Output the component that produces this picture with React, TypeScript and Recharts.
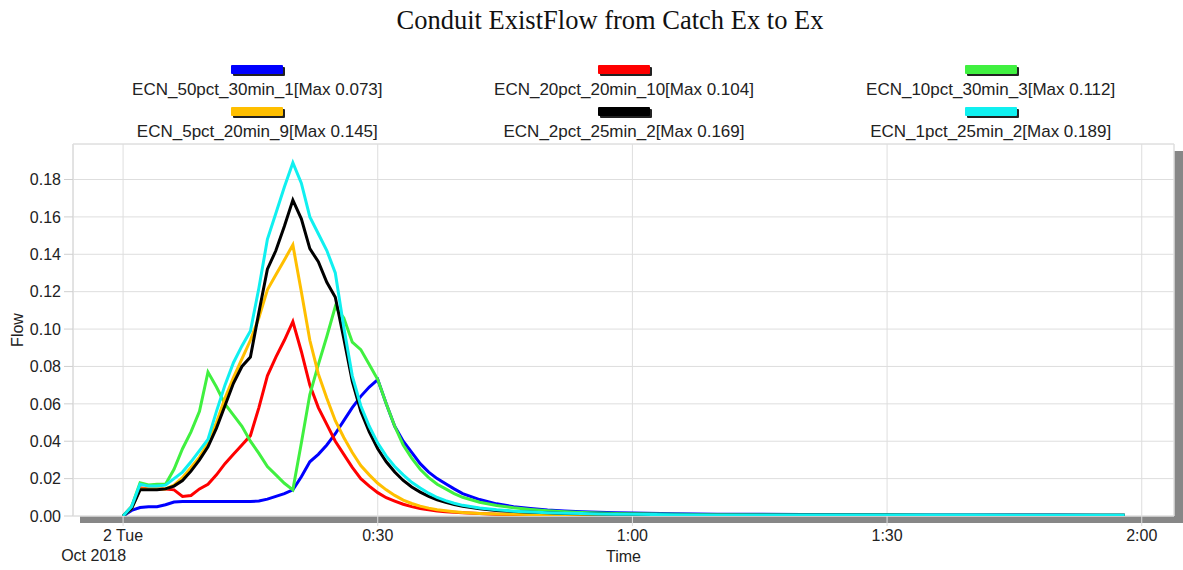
import React from "react";
import { LineChart, Line, XAxis, YAxis, CartesianGrid, ReferenceArea } from "recharts";

// minutes since 2 Tue Oct 2018 00:00
const TIME = [
  0, 1, 2, 3, 4, 5, 6, 7, 8, 9, 10, 11, 12, 13, 14, 15, 16, 17, 18, 19, 20,
  21, 22, 23, 24, 25, 26, 27, 28, 29, 30, 31, 32, 33, 34, 35, 36, 37, 38, 39, 40,
  42, 44, 46, 48, 50, 52, 54, 56, 58, 60,
  65, 70, 75, 80, 85, 90, 95, 100, 105, 110, 115, 118,
];

const FLOW_50PCT = [
  0, 0.003, 0.0045, 0.005, 0.005, 0.006, 0.0075, 0.0077, 0.0077, 0.0077, 0.0077,
  0.0077, 0.0077, 0.0077, 0.0077, 0.0078, 0.008, 0.009, 0.0105, 0.012, 0.014,
  0.021, 0.029, 0.033, 0.038, 0.044, 0.051, 0.058, 0.064, 0.069, 0.073,
  0.06, 0.048, 0.04, 0.034, 0.028, 0.0235, 0.02, 0.0172, 0.0145, 0.012,
  0.0088, 0.0065, 0.005, 0.004, 0.0032, 0.0027, 0.0023, 0.002, 0.0018, 0.0016,
  0.0012, 0.001, 0.0009, 0.0008, 0.0007, 0.0006, 0.0006, 0.0005, 0.0005, 0.0005, 0.0004, 0.0004,
];

const FLOW_20PCT = [
  0, 0.005, 0.015, 0.0145, 0.0145, 0.0145, 0.014, 0.0105, 0.011, 0.0145, 0.017,
  0.022, 0.028, 0.033, 0.038, 0.043, 0.058, 0.075, 0.085, 0.094, 0.104,
  0.088, 0.07, 0.058, 0.049, 0.04, 0.033, 0.026, 0.02, 0.016, 0.0125,
  0.0098, 0.008, 0.0063, 0.005, 0.004, 0.0033, 0.0027, 0.0023, 0.002, 0.0017,
  0.0013, 0.001, 0.0008, 0.0007, 0.0006, 0.0005, 0.0005, 0.0004, 0.0004, 0.0004,
  0.0003, 0.0003, 0.0003, 0.0003, 0.0003, 0.0003, 0.0003, 0.0003, 0.0003, 0.0003, 0.0003, 0.0003,
];

const FLOW_10PCT = [
  0, 0.005, 0.0178, 0.0166, 0.017, 0.017, 0.025, 0.036, 0.045, 0.056, 0.077,
  0.069, 0.06, 0.054, 0.048, 0.04, 0.0335, 0.0264, 0.022, 0.0175, 0.014,
  0.039, 0.065, 0.081, 0.096, 0.112, 0.106, 0.093, 0.089, 0.081, 0.073,
  0.06, 0.048, 0.038, 0.031, 0.025, 0.0205, 0.017, 0.0145, 0.012, 0.01,
  0.0074, 0.0056, 0.0044, 0.0035, 0.0028, 0.0023, 0.0019, 0.0016, 0.0014, 0.0012,
  0.0009, 0.0007, 0.0006, 0.0005, 0.0005, 0.0005, 0.0004, 0.0004, 0.0004, 0.0004, 0.0004, 0.0004,
];

const FLOW_5PCT = [
  0, 0.004, 0.0145, 0.0145, 0.0145, 0.0145, 0.0165, 0.0205, 0.026, 0.0315, 0.039,
  0.05, 0.063, 0.074, 0.084, 0.094, 0.106, 0.121, 0.129, 0.137, 0.145,
  0.12, 0.094, 0.076, 0.063, 0.051, 0.042, 0.034, 0.027, 0.022, 0.0175,
  0.014, 0.011, 0.0085, 0.0067, 0.0053, 0.0042, 0.0034, 0.0028, 0.0023, 0.0019,
  0.0014, 0.0011, 0.0009, 0.0008, 0.0007, 0.0006, 0.0006, 0.0005, 0.0005, 0.0005,
  0.0004, 0.0004, 0.0004, 0.0003, 0.0003, 0.0003, 0.0003, 0.0003, 0.0003, 0.0003, 0.0003, 0.0003,
];

const FLOW_2PCT = [
  0, 0.004, 0.014, 0.014, 0.014, 0.0145, 0.016, 0.019, 0.024, 0.03, 0.037,
  0.047, 0.059, 0.071, 0.08, 0.085, 0.109, 0.132, 0.142, 0.155, 0.169,
  0.159, 0.143, 0.136, 0.125, 0.117, 0.095, 0.072, 0.056, 0.045, 0.036,
  0.029, 0.0235, 0.019, 0.0155, 0.0128, 0.0105, 0.0087, 0.0073, 0.0061, 0.0052,
  0.0039, 0.003, 0.0024, 0.002, 0.0017, 0.0014, 0.0012, 0.0011, 0.001, 0.0009,
  0.0007, 0.0006, 0.0005, 0.0005, 0.0005, 0.0005, 0.0004, 0.0004, 0.0004, 0.0004, 0.0004, 0.0004,
];

const FLOW_1PCT = [
  0, 0.005, 0.017, 0.016, 0.016, 0.0165, 0.02, 0.0235, 0.029, 0.035, 0.041,
  0.056, 0.07, 0.082, 0.091, 0.099, 0.122, 0.148, 0.162, 0.176, 0.189,
  0.178, 0.16, 0.151, 0.142, 0.13, 0.101, 0.075, 0.059, 0.048, 0.039,
  0.032, 0.0265, 0.022, 0.018, 0.015, 0.0122, 0.0099, 0.0082, 0.0068, 0.0057,
  0.0043, 0.0033, 0.0026, 0.0021, 0.0018, 0.0015, 0.0013, 0.0011, 0.001, 0.0009,
  0.0007, 0.0006, 0.0005, 0.0005, 0.0005, 0.0005, 0.0005, 0.0005, 0.0004, 0.0004, 0.0004, 0.0004,
];

const SERIES = [
  { key: "s50", name: "ECN_50pct_30min_1[Max 0.073]", color: "#0000ff", values: FLOW_50PCT },
  { key: "s20", name: "ECN_20pct_20min_10[Max 0.104]", color: "#ff0000", values: FLOW_20PCT },
  { key: "s10", name: "ECN_10pct_30min_3[Max 0.112]", color: "#40f040", values: FLOW_10PCT },
  { key: "s5", name: "ECN_5pct_20min_9[Max 0.145]", color: "#ffbf00", values: FLOW_5PCT },
  { key: "s2", name: "ECN_2pct_25min_2[Max 0.169]", color: "#000000", values: FLOW_2PCT },
  { key: "s1", name: "ECN_1pct_25min_2[Max 0.189]", color: "#10f0f0", values: FLOW_1PCT },
];

const X_TICKS = [0, 30, 60, 90, 120];
const X_TICK_LABELS = ["2 Tue", "0:30", "1:00", "1:30", "2:00"];
const X_MINOR = [15, 45, 75, 105];
const Y_TICKS = [0, 0.02, 0.04, 0.06, 0.08, 0.1, 0.12, 0.14, 0.16, 0.18];
const Y_MINOR = [
  0.005, 0.01, 0.015, 0.025, 0.03, 0.035, 0.045, 0.05, 0.055, 0.065, 0.07, 0.075,
  0.085, 0.09, 0.095, 0.105, 0.11, 0.115, 0.125, 0.13, 0.135, 0.145, 0.15, 0.155,
  0.165, 0.17, 0.175, 0.185, 0.19, 0.195,
];

const X_DOMAIN: [number, number] = [-5.9, 123.8];
const Y_DOMAIN: [number, number] = [0, 0.199];

const rows = TIME.map((t, i) => {
  const row: Record<string, number> = { t };
  SERIES.forEach((s) => {
    row[s.key] = s.values[i];
  });
  return row;
});

const GRID = "#dedede";
const TEXT = "#222";

const TimeTick = (props: any) => {
  const { x, y, payload } = props;
  const idx = X_TICKS.indexOf(payload.value);
  return (
    <g>
      <text x={x} y={y} dy="0.71em" textAnchor="middle" fontSize={16} fill={TEXT}>
        {X_TICK_LABELS[idx]}
      </text>
      {idx === 0 && (
        <text x={x + 3} y={y + 20} dy="0.71em" textAnchor="end" fontSize={16} fill={TEXT}>
          Oct 2018
        </text>
      )}
    </g>
  );
};

export default function App() {
  return (
    <div
      style={{
        position: "absolute",
        left: 0,
        top: 0,
        width: 1183,
        height: 570,
        background: "#fff",
        fontFamily: '"Liberation Sans", Arial, sans-serif',
        color: TEXT,
        overflow: "hidden",
      }}
    >
      {/* title */}
      <div
        style={{
          position: "absolute",
          left: 610,
          top: 5,
          transform: "translateX(-50%)",
          whiteSpace: "nowrap",
          fontFamily: '"Liberation Serif", "Times New Roman", serif',
          fontSize: 26.5,
          lineHeight: "30px",
          color: "#111",
        }}
      >
        Conduit ExistFlow from Catch Ex to Ex
      </div>

      {/* legend, 3 columns x 2 rows */}
      <div
        style={{
          position: "absolute",
          left: 74,
          top: 65,
          width: 1100,
          display: "grid",
          gridTemplateColumns: "repeat(3, 1fr)",
          rowGap: 0,
        }}
      >
        {SERIES.map((s) => (
          <div
            key={s.key}
            style={{ display: "flex", flexDirection: "column", alignItems: "center", height: 42 }}
          >
            <div
              style={{
                width: 52,
                height: 9,
                background: s.color,
                boxShadow: "2px 2px 0 #222",
                borderRadius: 1,
              }}
            />
            <div style={{ fontSize: 17, lineHeight: "20px", marginTop: 6, whiteSpace: "nowrap" }}>
              {s.name}
            </div>
          </div>
        ))}
      </div>

      {/* drop shadow under the plot frame */}
      <div
        style={{
          position: "absolute",
          left: 80,
          top: 151,
          width: 1103,
          height: 372,
          background: "#878787",
        }}
      />

      <div style={{ position: "absolute", left: 0, top: 0 }}>
        <LineChart
          width={1183}
          height={570}
          data={rows}
          margin={{ top: 144, right: 9, bottom: 0, left: 0 }}
        >
          <CartesianGrid
            xAxisId="t"
            yAxisId="f"
            stroke={GRID}
            fill="#fff"
            fillOpacity={1}
          />
          <XAxis
            xAxisId="t"
            dataKey="t"
            type="number"
            domain={X_DOMAIN}
            ticks={X_TICKS}
            allowDataOverflow
            height={54}
            axisLine={false}
            tickLine={{ stroke: GRID }}
            tickSize={10}
            tickMargin={4}
            tick={<TimeTick />}
            interval={0}
            label={{ value: "Time", position: "insideBottom", offset: 8, fontSize: 16, fill: TEXT }}
          />
          <XAxis
            xAxisId="minor"
            dataKey="t"
            type="number"
            domain={X_DOMAIN}
            ticks={X_MINOR}
            allowDataOverflow
            mirror
            height={1}
            axisLine={false}
            tick={false}
            tickLine={{ stroke: "#cfcfcf" }}
            tickSize={7}
            interval={0}
          />
          <YAxis
            yAxisId="f"
            type="number"
            domain={Y_DOMAIN}
            ticks={Y_TICKS}
            allowDataOverflow
            width={73}
            axisLine={{ stroke: GRID }}
            tickLine={{ stroke: "#cfcfcf" }}
            tickSize={9}
            tickMargin={3}
            interval={0}
            tick={{ fontSize: 16, fill: TEXT }}
            tickFormatter={(v: number) => v.toFixed(2)}
            label={{
              value: "Flow",
              angle: -90,
              position: "insideLeft",
              offset: 17,
              fontSize: 16,
              fill: TEXT,
              style: { textAnchor: "middle" },
            }}
          />
          <YAxis
            yAxisId="minor"
            type="number"
            domain={Y_DOMAIN}
            ticks={Y_MINOR}
            allowDataOverflow
            mirror
            width={1}
            axisLine={false}
            tick={false}
            tickLine={{ stroke: "#cfcfcf" }}
            tickSize={8}
            interval={0}
          />
          <ReferenceArea
            xAxisId="t"
            yAxisId="f"
            x1={X_DOMAIN[0]}
            x2={X_DOMAIN[1]}
            y1={Y_DOMAIN[0]}
            y2={Y_DOMAIN[1]}
            fill="none"
            stroke={GRID}
            strokeWidth={1}
          />
          {SERIES.map((s) => (
            <Line
              key={s.key}
              xAxisId="t"
              yAxisId="f"
              type="linear"
              dataKey={s.key}
              name={s.name}
              stroke={s.color}
              strokeWidth={3}
              dot={false}
              isAnimationActive={false}
            />
          ))}
        </LineChart>
      </div>
    </div>
  );
}
